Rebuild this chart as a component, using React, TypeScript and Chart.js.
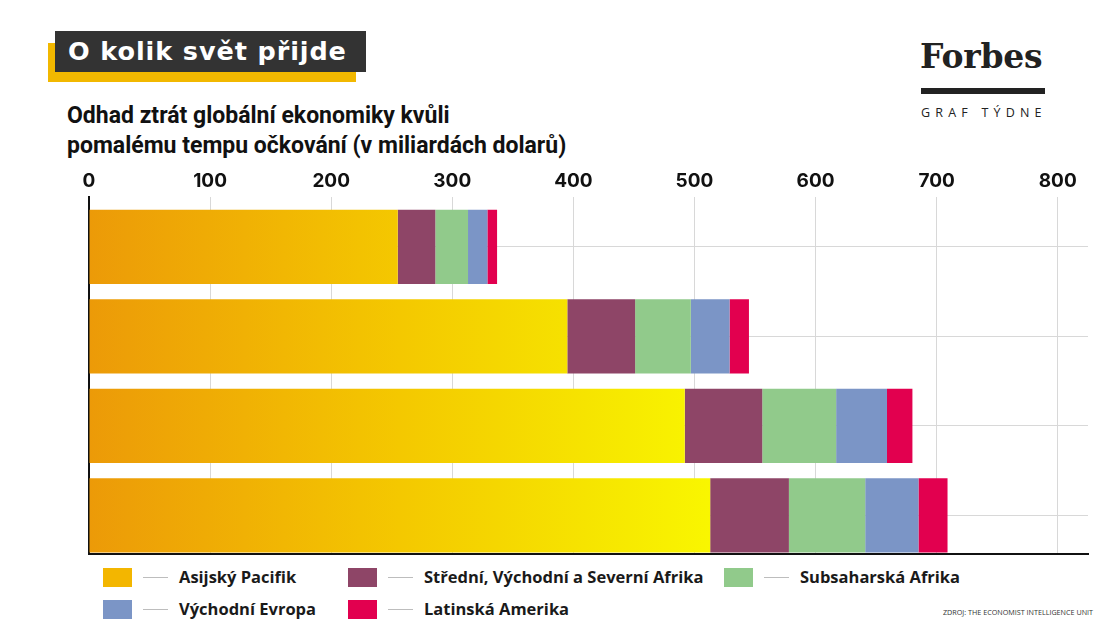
import React, { useEffect, useRef } from "react";
import { Chart, registerables } from "chart.js";

Chart.register(...registerables);

// ---- data ----
const scenarios = ["Scénář 1", "Scénář 2", "Scénář 3", "Scénář 4"];
const asijskyPacifik = [255, 395, 492, 513];
const stredniVychodniSeverniAfrika = [31, 56, 64, 65];
const subsaharskaAfrika = [27, 46, 61, 63];
const vychodniEvropa = [16, 32, 42, 44];
const latinskaAmerika = [8, 16, 21, 24];
const xTickValues = [0, 100, 200, 300, 400, 500, 600, 700, 800];

const seriesNames = [
  "Asijský Pacifik",
  "Střední, Východní a Severní Afrika",
  "Subsaharská Afrika",
  "Východní Evropa",
  "Latinská Amerika",
];
const seriesColors = ["#F3B600", "#8E4567", "#91CA8B", "#7B95C6", "#E2004F"];

const FONT = '"Open Sans", "Noto Sans", sans-serif';

function toPoints(values: number[]) {
  return values.map((v, i) => ({ x: v, y: i }));
}

function ChartCanvas() {
  const ref = useRef<HTMLCanvasElement | null>(null);
  useEffect(() => {
    if (!ref.current) return;
    const yellow = (c: any) => {
      const chart = c.chart;
      const { ctx, chartArea } = chart;
      if (!chartArea) return seriesColors[0];
      const xs = chart.scales.x;
      const x0 = xs.getPixelForValue(0);
      const x1 = xs.getPixelForValue(Math.max(...asijskyPacifik));
      const g = ctx.createLinearGradient(x0, 0, x1, 0);
      g.addColorStop(0, "#EC9A08");
      g.addColorStop(0.5, "#F4C800");
      g.addColorStop(0.8, "#F6E400");
      g.addColorStop(1, "#F9F600");
      return g;
    };
    const all = [
      asijskyPacifik,
      stredniVychodniSeverniAfrika,
      subsaharskaAfrika,
      vychodniEvropa,
      latinskaAmerika,
    ];
    const chart = new Chart(ref.current, {
      type: "bar",
      data: {
        labels: scenarios,
        datasets: all.map((vals, i) => ({
          label: seriesNames[i],
          data: toPoints(vals),
          backgroundColor: i === 0 ? yellow : seriesColors[i],
          borderWidth: 0,
          categoryPercentage: 1,
          barPercentage: 0.83,
          stack: "s",
          xAxisID: "x",
          yAxisID: "y",
        })) as any,
      },
      options: {
        indexAxis: "y",
        animation: false,
        responsive: false,
        devicePixelRatio: 1,
        layout: { padding: { left: 89, right: 22, top: 6, bottom: 6 } },
        plugins: {
          legend: { display: false },
          tooltip: { enabled: false },
        },
        scales: {
          x: {
            type: "linear",
            position: "top",
            min: 0,
            max: 825,
            stacked: true,
            afterBuildTicks: (s: any) => {
              s.ticks = xTickValues.map((v) => ({ value: v }));
            },
            grid: {
              color: (c: any) =>
                c.tick && c.tick.value === 0 ? "rgba(0,0,0,0)" : "#D8D8D8",
              lineWidth: 1,
              drawTicks: false,
            },
            border: { display: false },
            ticks: {
              color: "#111",
              padding: 4,
              font: { family: '"Inter", "Open Sans", sans-serif', weight: "bold", size: 19 },
            },
          },
          x2: {
            type: "linear",
            position: "bottom",
            display: true,
            ticks: { display: false },
            grid: { display: false, drawTicks: false },
            border: { display: true, color: "#111", width: 2 },
          },
          y: {
            type: "linear",
            reverse: true,
            offset: false,
            min: -0.5607,
            max: 3.432,
            stacked: true,
            afterBuildTicks: (s: any) => {
              s.ticks = scenarios.map((_, i) => ({ value: i }));
            },
            ticks: { display: false },
            grid: { color: "#D8D8D8", lineWidth: 1, drawTicks: false, offset: false },
            border: { display: true, color: "#111", width: 2 },
          },
        },
      } as any,
    });
    return () => chart.destroy();
  }, []);
  return <canvas ref={ref} width={1110} height={400} style={{ display: "block" }} />;
}

function LegendItem({ x, y, i }: { x: number; y: number; i: number }) {
  return (
    <div style={{ position: "absolute", left: x, top: y, height: 19 }}>
      <div
        style={{
          position: "absolute",
          left: 0,
          top: 0,
          width: 29,
          height: 19,
          background: seriesColors[i],
        }}
      />
      <div
        style={{
          position: "absolute",
          left: 40,
          top: 9,
          width: 25,
          height: 1,
          background: "#BDBDBD",
        }}
      />
      <div
        style={{
          position: "absolute",
          left: 76,
          top: -3,
          whiteSpace: "nowrap",
          font: `700 16.5px ${FONT}`,
          lineHeight: "24px",
          color: "#1A1A1A",
        }}
      >
        {seriesNames[i]}
      </div>
    </div>
  );
}

export default function App() {
  return (
    <div
      style={{
        position: "fixed",
        left: 0,
        top: 0,
        width: 1110,
        height: 624,
        background: "#fff",
        overflow: "hidden",
        fontFamily: FONT,
      }}
    >
      {/* title block */}
      <div style={{ position: "absolute", left: 48, top: 43, width: 308, height: 39, background: "#F2B800" }} />
      <div
        style={{
          position: "absolute",
          left: 55,
          top: 31,
          width: 311,
          height: 41,
          background: "#333333",
          color: "#fff",
          font: `700 25.5px "DejaVu Sans", ${FONT}`,
          letterSpacing: "0.9px",
          lineHeight: "41px",
          paddingLeft: 13,
          boxSizing: "border-box",
          whiteSpace: "nowrap",
        }}
      >
        O kolik svět přijde
      </div>
      {/* subtitle */}
      <div
        style={{
          position: "absolute",
          left: 67,
          top: 101,
          font: `700 23px Roboto, ${FONT}`,
          lineHeight: "30px",
          color: "#111",
          whiteSpace: "nowrap",
        }}
      >
        Odhad ztrát globální ekonomiky kvůli
        <br />
        pomalému tempu očkování (v miliardách dolarů)
      </div>
      {/* Forbes logo */}
      <div
        style={{
          position: "absolute",
          left: 920,
          top: 35,
          font: `700 33px "DejaVu Serif", serif`,
          letterSpacing: "-0.2px",
          color: "#222",
          lineHeight: "44px",
          whiteSpace: "nowrap",
        }}
      >
        Forbes
      </div>
      <div style={{ position: "absolute", left: 921, top: 88, width: 124, height: 6, background: "#222" }} />
      <div
        style={{
          position: "absolute",
          left: 921,
          top: 104,
          font: `400 12.5px ${FONT}`,
          letterSpacing: "5.2px",
          color: "#222",
          lineHeight: "18px",
          whiteSpace: "nowrap",
        }}
      >
        GRAF TÝDNE
      </div>
      {/* chart */}
      <div style={{ position: "absolute", left: 0, top: 160, width: 1110, height: 400 }}>
        <ChartCanvas />
      </div>
      {/* legend */}
      <LegendItem x={103} y={568} i={0} />
      <LegendItem x={348} y={568} i={1} />
      <LegendItem x={724} y={568} i={2} />
      <LegendItem x={103} y={600} i={3} />
      <LegendItem x={348} y={600} i={4} />
      <div
        style={{
          position: "absolute",
          left: 943,
          top: 606,
          font: `400 7.2px ${FONT}`,
          color: "#333",
          whiteSpace: "nowrap",
          lineHeight: "12px",
        }}
      >
        ZDROJ: THE ECONOMIST INTELLIGENCE UNIT
      </div>
    </div>
  );
}
